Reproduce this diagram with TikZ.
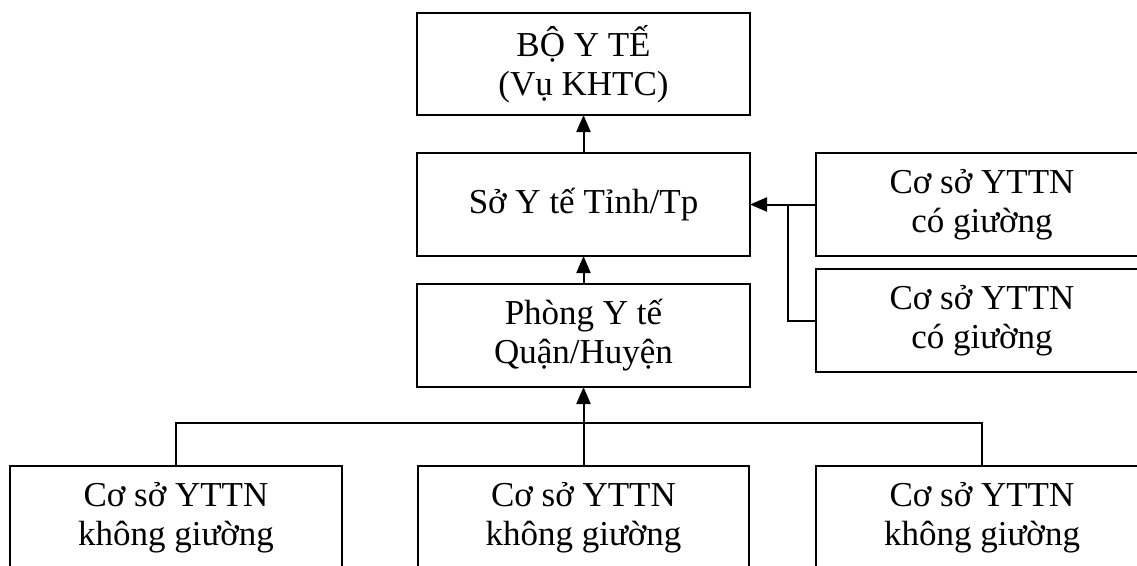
\documentclass[tikz,border=0pt]{standalone}
\usepackage{fontspec}
\setmainfont{Liberation Serif}
\usetikzlibrary{arrows.meta}
\begin{document}
\begin{tikzpicture}[x=1pt,y=-1pt,
 box/.style={draw, line width=2pt, minimum width=333pt, minimum height=103pt, inner sep=0pt, outer sep=0pt, align=center, font=\fontsize{35}{39}\selectfont},
 conn/.style={line width=2pt},
 arr/.style={conn, -{Triangle[length=17pt,width=14pt]}}]
\useasboundingbox (0,0) rectangle (1137,565);
\clip (0,0) rectangle (1137,565);
\node[box, minimum height=102pt] (bo) at (583.5,64) {BỘ Y TẾ\\(Vụ KHTC)};
\node[box] (so) at (583.5,204.5) {Sở Y tế Tỉnh/Tp};
\node[box] (phong) at (583.5,335.5) {Phòng Y tế\\Quận/Huyện};
\node[box, minimum width=332pt] (r1) at (982,204.5) {Cơ sở YTTN\\có giường};
\node[box, minimum width=332pt] (r2) at (982,320.5) {Cơ sở YTTN\\có giường};
\node[box, minimum width=332pt] (b1) at (176,517.5) {Cơ sở YTTN\\không giường};
\node[box, minimum width=331pt] (b2) at (583.5,517.5) {Cơ sở YTTN\\không giường};
\node[box, minimum width=332pt] (b3) at (982,517.5) {Cơ sở YTTN\\không giường};
\draw[arr] (so) -- (bo);
\draw[arr] (phong) -- (so);
\draw[arr] (r1.west) -- (so.east);
\coordinate (j) at (788,204.5);
\draw[conn] (j) |- (r2.west);
\draw[arr] (b2.north) -- (phong.south);
\coordinate (hl) at (583.5,423);
\draw[conn] (b1.north) |- (hl) -| (b3.north);
\end{tikzpicture}
\end{document}
